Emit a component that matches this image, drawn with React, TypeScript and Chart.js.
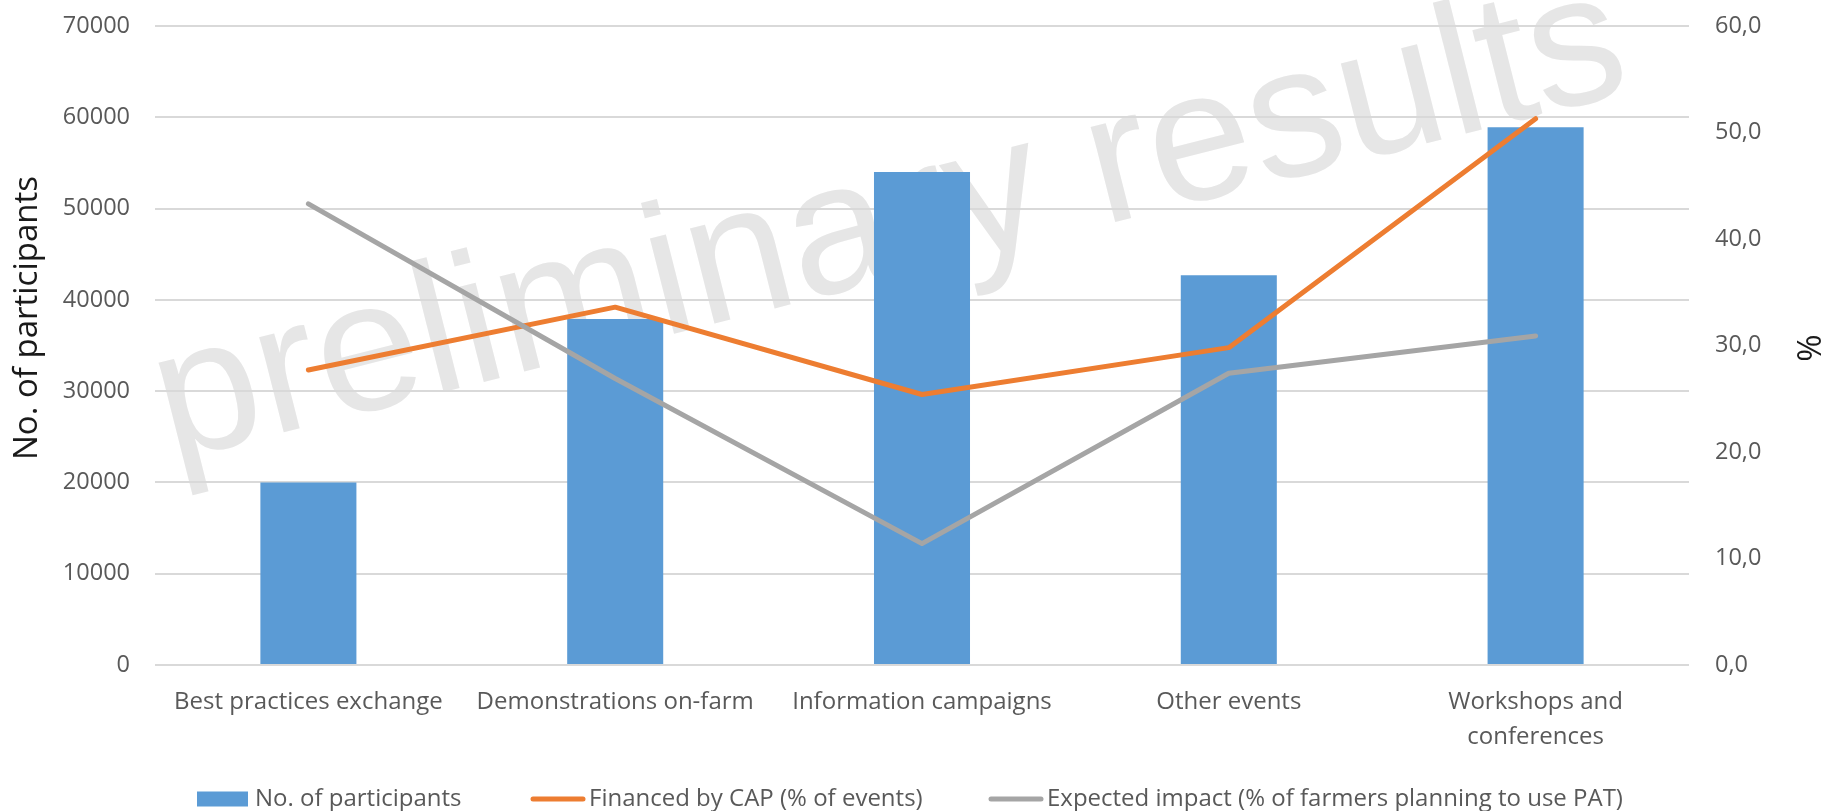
import React, { useEffect, useRef } from 'react';
import { Chart, registerables } from 'chart.js';

Chart.register(...registerables);

const categories: (string | string[])[] = [
  'Best practices exchange',
  'Demonstrations on-farm',
  'Information campaigns',
  'Other events',
  ['Workshops and', 'conferences'],
];
const participants = [20000, 37900, 54000, 42700, 58900];
const financedByCap = [27.7, 33.6, 25.4, 29.8, 51.3];
const expectedImpact = [43.3, 26.9, 11.4, 27.4, 30.9];
const seriesLabels = [
  'No. of participants',
  'Financed by CAP (% of events)',
  'Expected impact (% of farmers planning to use PAT)',
];
const leftAxisRange = [0, 70000, 10000];
const rightAxisRange = [0, 60, 10];
const leftAxisTitle = 'No. of participants';
const rightAxisTitle = '%';
const watermarkText = 'preliminary results';

const FONT = "'Open Sans', 'DejaVu Sans', sans-serif";
const TEXT_GRAY = '#595959';

const watermarkPlugin = {
  id: 'watermark',
  beforeDraw(chart: any) {
    const ctx = chart.ctx as CanvasRenderingContext2D;
    ctx.save();
    ctx.font = "186px 'Liberation Sans', Arial, sans-serif";
    ctx.fillStyle = '#e6e6e6';
    ctx.textBaseline = 'alphabetic';
    ctx.textAlign = 'left';
    ctx.translate(171, 461);
    ctx.rotate((-14.2 * Math.PI) / 180);
    ctx.fillText(watermarkText, 0, 0);
    ctx.restore();
  },
};

const axisTitlePlugin = {
  id: 'axisTitles',
  afterDraw(chart: any) {
    const ctx = chart.ctx as CanvasRenderingContext2D;
    const drawRot = (text: string, x: number, y: number) => {
      ctx.save();
      ctx.font = `33px ${FONT}`;
      ctx.fillStyle = '#1a1a1a';
      ctx.textAlign = 'center';
      ctx.textBaseline = 'middle';
      ctx.translate(x, y);
      ctx.rotate(-Math.PI / 2);
      ctx.fillText(text, 0, 0);
      ctx.restore();
    };
    drawRot(leftAxisTitle, 28, 318);
    drawRot(rightAxisTitle, 1812, 348);
  },
};

const legendPlugin = {
  id: 'customLegend',
  afterDraw(chart: any) {
    const ctx = chart.ctx as CanvasRenderingContext2D;
    const xs = [197, 531, 989];
    const cy = 799;
    chart.data.datasets.forEach((ds: any, i: number) => {
      const x = xs[i];
      ctx.save();
      if (ds.type === 'bar') {
        ctx.fillStyle = ds.backgroundColor;
        ctx.fillRect(x, cy - 7.5, 51, 15);
      } else {
        ctx.strokeStyle = ds.borderColor;
        ctx.lineWidth = 5;
        ctx.lineCap = 'round';
        ctx.beginPath();
        ctx.moveTo(x + 2, cy);
        ctx.lineTo(x + 52, cy);
        ctx.stroke();
      }
      ctx.font = `24px ${FONT}`;
      ctx.fillStyle = TEXT_GRAY;
      ctx.textAlign = 'left';
      ctx.textBaseline = 'middle';
      ctx.fillText(ds.label, x + 58, cy);
      ctx.restore();
    });
  },
};

export default function App() {
  const canvasRef = useRef<HTMLCanvasElement | null>(null);

  useEffect(() => {
    document.body.style.margin = '0';
    const canvas = canvasRef.current;
    if (!canvas) return;
    const chart = new Chart(canvas, {
      type: 'bar',
      data: {
        labels: categories as any,
        datasets: [
          {
            type: 'bar',
            label: seriesLabels[0],
            data: participants,
            backgroundColor: '#5B9BD5',
            yAxisID: 'y',
            order: 3,
            barPercentage: 0.313,
            categoryPercentage: 1,
          } as any,
          {
            type: 'line',
            label: seriesLabels[1],
            data: financedByCap,
            borderColor: '#ED7D31',
            backgroundColor: '#ED7D31',
            borderWidth: 5,
            pointRadius: 0,
            pointHoverRadius: 0,
            tension: 0,
            fill: false,
            borderCapStyle: 'round',
            borderJoinStyle: 'round',
            yAxisID: 'y1',
            order: 2,
          } as any,
          {
            type: 'line',
            label: seriesLabels[2],
            data: expectedImpact,
            borderColor: '#A5A5A5',
            backgroundColor: '#A5A5A5',
            borderWidth: 5,
            pointRadius: 0,
            pointHoverRadius: 0,
            tension: 0,
            fill: false,
            borderCapStyle: 'round',
            borderJoinStyle: 'round',
            yAxisID: 'y1',
            order: 1,
          } as any,
        ],
      },
      options: {
        animation: false,
        responsive: false,
        devicePixelRatio: 1,
        layout: { padding: { top: 26, bottom: 58, left: 0, right: 0 } },
        plugins: {
          legend: { display: false },
          tooltip: { enabled: false },
        },
        font: { family: FONT },
        scales: {
          x: {
            grid: { display: false, drawTicks: false },
            border: { display: false },
            ticks: {
              color: TEXT_GRAY,
              font: { family: FONT, size: 24, lineHeight: 1.45 },
              padding: 19.5,
              maxRotation: 0,
              autoSkip: false,
            },
            afterFit: (s: any) => {
              s.height = 88;
            },
          },
          y: {
            position: 'left',
            min: leftAxisRange[0],
            max: leftAxisRange[1],
            grid: { color: '#d9d9d9', lineWidth: 2, drawTicks: false },
            border: { display: false },
            ticks: {
              stepSize: leftAxisRange[2],
              color: TEXT_GRAY,
              font: { family: FONT, size: 23.5 },
              padding: 25,
              callback: (v: any) => String(v),
            },
            afterFit: (s: any) => {
              s.width = 155;
              s.paddingTop = 0;
              s.paddingBottom = 0;
            },
          },
          y1: {
            position: 'right',
            min: rightAxisRange[0],
            max: rightAxisRange[1],
            grid: { display: false, drawTicks: false },
            border: { display: false },
            ticks: {
              stepSize: rightAxisRange[2],
              color: TEXT_GRAY,
              font: { family: FONT, size: 23.5 },
              padding: 26,
              callback: (v: any) => Number(v).toFixed(1).replace('.', ','),
            },
            afterFit: (s: any) => {
              s.width = 140;
              s.paddingTop = 0;
              s.paddingBottom = 0;
            },
          },
        },
      } as any,
      plugins: [watermarkPlugin, axisTitlePlugin, legendPlugin],
    });
    return () => chart.destroy();
  }, []);

  return (
    <div style={{ width: 1829, height: 811, position: 'relative' }}>
      <canvas ref={canvasRef} width={1829} height={811} style={{ display: 'block' }} />
    </div>
  );
}
